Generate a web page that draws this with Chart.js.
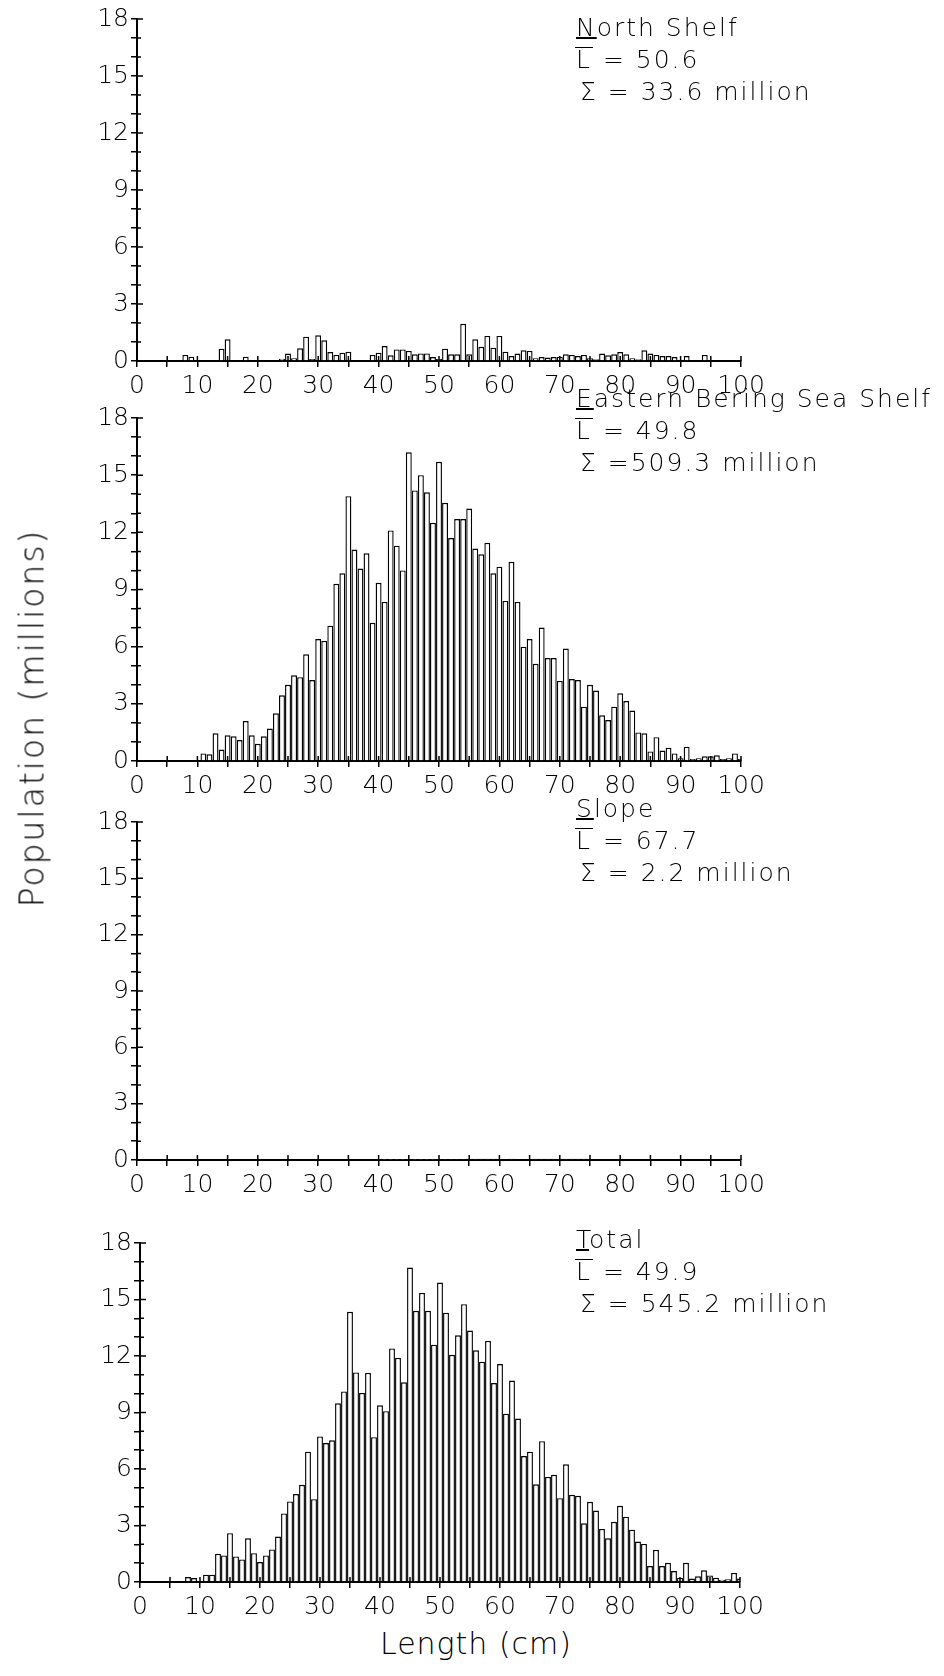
<!DOCTYPE html>
<html lang="en">
<head>
<meta charset="UTF-8">
<title>Population by length</title>
<script src="https://cdn.jsdelivr.net/npm/chart.js"></script>
<style>
  body { margin: 0; background: #fff; font-family: "DejaVu Sans", sans-serif; font-weight: 200; color: #000; }
  #page { position: relative; width: 944px; height: 1676px; overflow: hidden; background: #fff; }
  canvas { position: absolute; left: 0; }
  .note { position: absolute; left: 576px; font-size: 25px; line-height: 32px; letter-spacing: 2px; white-space: nowrap; }
  .note u { text-decoration-thickness: 1.5px; text-underline-offset: 1px; }
  .lbar { display: inline-block; border-top: 1.5px solid #000; line-height: 24px; padding: 0 1px; margin-left: -1px; }
  .sum { padding-left: 4px; }
  #ylab { position: absolute; left: 32px; top: 718px; font-size: 33px; letter-spacing: 2px; white-space: nowrap;
          transform: translate(-50%, -50%) rotate(-90deg); }
  #xlab { position: absolute; left: 476px; top: 1643px; font-size: 30px; letter-spacing: 1px; white-space: nowrap;
          transform: translate(-50%, -50%); }
</style>
</head>
<body>
<div id="page">
  <canvas id="north" width="944" height="400" style="top:0px"></canvas>
  <canvas id="ebs" width="944" height="405" style="top:400px"></canvas>
  <canvas id="slope" width="944" height="420" style="top:805px"></canvas>
  <canvas id="total" width="944" height="400" style="top:1225px"></canvas>

  <div class="note" style="top:12px"><u>N</u>orth Shelf<br><span class="lbar">L</span> = 50.6<br><span class="sum">Σ = 33.6 million</span></div>
  <div class="note" style="top:383px"><u>E</u>astern Bering Sea Shelf<br><span class="lbar">L</span> = 49.8<br><span class="sum">Σ =509.3 million</span></div>
  <div class="note" style="top:793px"><u>S</u>lope<br><span class="lbar">L</span> = 67.7<br><span class="sum">Σ = 2.2 million</span></div>
  <div class="note" style="top:1224px"><u>T</u>otal<br><span class="lbar">L</span> = 49.9<br><span class="sum">Σ = 545.2 million</span></div>

  <div id="ylab">Population (millions)</div>
  <div id="xlab">Length (cm)</div>
</div>

<script>
// length classes, 1 cm
const lengths = [];
for (let i = 0; i <= 100; i++) lengths.push(i);

const yTicks = [0, 3, 6, 9, 12, 15, 18];
const xTicks = [0, 10, 20, 30, 40, 50, 60, 70, 80, 90, 100];

// millions of fish per cm, index = length
const northShelf = [
  0, 0, 0, 0, 0, 0, 0, 0, 0.32, 0.23,
  0.05, 0, 0, 0, 0.65, 1.14, 0, 0.05, 0.23, 0.05,
  0.05, 0, 0, 0, 0.12, 0.39, 0.14, 0.67, 1.28, 0.1,
  1.35, 1.09, 0.47, 0.32, 0.44, 0.49, 0.05, 0.05, 0.05, 0.32,
  0.44, 0.79, 0.3, 0.61, 0.61, 0.53, 0.35, 0.4, 0.4, 0.21,
  0.1, 0.65, 0.35, 0.35, 1.96, 0.35, 1.14, 0.75, 1.32, 0.7,
  1.32, 0.49, 0.26, 0.39, 0.56, 0.53, 0.14, 0.21, 0.18, 0.21,
  0.23, 0.35, 0.32, 0.26, 0.32, 0.14, 0.09, 0.39, 0.3, 0.35,
  0.47, 0.35, 0.14, 0.09, 0.56, 0.39, 0.32, 0.26, 0.26, 0.21,
  0.05, 0.26, 0.05, 0, 0.32, 0.05, 0, 0, 0, 0,
  0
];

const easternBering = [
  0, 0, 0, 0, 0, 0, 0, 0, 0, 0,
  0, 0.4, 0.35, 1.45, 0.6, 1.35, 1.3, 1.1, 2.1, 1.35,
  0.9, 1.3, 1.7, 2.5, 3.45, 4.0, 4.5, 4.4, 5.6, 4.25,
  6.4, 6.3, 7.1, 9.3, 9.85, 13.9, 11.1, 10.1, 10.9, 7.25,
  9.35, 8.35, 12.1, 11.3, 10.0, 16.2, 14.2, 15.0, 14.1, 12.5,
  15.7, 13.55, 11.7, 12.7, 12.7, 13.25, 11.15, 10.85, 11.45, 9.85,
  10.2, 8.4, 10.45, 8.35, 6.0, 6.4, 5.1, 7.0, 5.4, 5.4,
  4.2, 5.9, 4.3, 4.25, 2.85, 4.0, 3.7, 2.4, 2.15, 2.85,
  3.55, 3.15, 2.65, 1.5, 1.45, 0.5, 1.25, 0.55, 0.7, 0.4,
  0.15, 0.75, 0.1, 0.15, 0.25, 0.25, 0.3, 0.1, 0.15, 0.4,
  0.1
];

const slope = [
  0, 0, 0, 0, 0, 0, 0, 0, 0, 0,
  0, 0, 0, 0, 0, 0, 0, 0, 0, 0,
  0, 0, 0, 0, 0, 0, 0, 0, 0, 0,
  0, 0, 0, 0, 0, 0, 0, 0, 0, 0,
  0.01, 0.01, 0.01, 0.01, 0.01, 0.01, 0.01, 0.01, 0.01, 0.01,
  0.02, 0.02, 0.02, 0.02, 0.02, 0.06, 0.06, 0.07, 0.06, 0.06,
  0.06, 0.05, 0.06, 0.04, 0.04, 0.04, 0.06, 0.07, 0.06, 0.07,
  0.06, 0.06, 0.06, 0.07, 0.06, 0.05, 0.05, 0.05, 0.05, 0.05,
  0.05, 0.05, 0.05, 0.05, 0.05, 0.04, 0.04, 0.04, 0.04, 0.04,
  0.04, 0.04, 0.03, 0.03, 0.03, 0.03, 0, 0, 0, 0,
  0
];

const total = [
  0, 0, 0, 0, 0, 0, 0, 0, 0.26, 0.21,
  0.05, 0.39, 0.39, 1.5, 1.41, 2.59, 1.36, 1.2, 2.32, 1.53,
  1.06, 1.41, 1.73, 2.41, 3.64, 4.28, 4.67, 5.16, 6.92, 4.4,
  7.73, 7.38, 7.52, 9.49, 10.12, 14.35, 11.13, 10.04, 11.1, 7.69,
  9.38, 9.07, 12.4, 11.9, 10.6, 16.7, 14.4, 15.35, 14.4, 12.6,
  15.9, 14.3, 12.06, 13.1, 14.75, 13.35, 12.3, 11.7, 12.8, 10.56,
  11.57, 8.94, 10.7, 8.68, 6.69, 6.92, 5.19, 7.48, 5.58, 5.69,
  4.45, 6.25, 4.63, 4.58, 3.12, 4.26, 3.79, 2.82, 2.32, 3.2,
  4.05, 3.47, 2.78, 2.15, 2.02, 0.85, 1.71, 0.85, 1.02, 0.58,
  0.23, 1.02, 0.18, 0.3, 0.62, 0.35, 0.23, 0.12, 0.14, 0.48,
  0.18
];

const tickFont = { family: 'DejaVu Sans', size: 25, weight: '200' };

// small tick marks on the inside of the axes too (the original ticks cross the axis)
const innerTicks = {
  id: 'innerTicks',
  afterDraw(chart) {
    const ctx = chart.ctx, a = chart.chartArea;
    const xs = chart.scales.x, ys = chart.scales.y;
    ctx.save();
    ctx.strokeStyle = '#000';
    ctx.lineWidth = 1.5;
    ctx.beginPath();
    xs.ticks.forEach(t => {
      const px = xs.getPixelForValue(t.value);
      ctx.moveTo(px, a.bottom);
      ctx.lineTo(px, a.bottom - 5);
    });
    ys.ticks.forEach(t => {
      const py = ys.getPixelForValue(t.value);
      ctx.moveTo(a.left, py);
      ctx.lineTo(a.left + (yTicks.includes(t.value) ? 6 : 4), py);
    });
    ctx.stroke();
    ctx.restore();
  }
};

function panel(id, values, pad) {
  const pts = lengths.map((l, i) => ({ x: l, y: values[i] }));
  return new Chart(document.getElementById(id), {
    type: 'bar',
    data: {
      datasets: [{
        data: pts,
        backgroundColor: '#fff',
        borderColor: '#000',
        borderWidth: 1.4,
        borderSkipped: 'start',
        barPercentage: 0.98,
        categoryPercentage: 1.0
      }]
    },
    options: {
      responsive: false,
      animation: false,
      layout: { padding: pad },
      plugins: { legend: { display: false }, tooltip: { enabled: false } },
      scales: {
        x: {
          type: 'linear',
          min: 0, max: 100,
          offset: false,
          ticks: {
            stepSize: 5, autoSkip: false, maxRotation: 0, padding: 4,
            color: '#000', font: tickFont,
            callback: v => xTicks.includes(v) ? v : ''
          },
          grid: { offset: false, drawOnChartArea: false, drawTicks: true, tickLength: 6, color: '#000', lineWidth: 1.5 },
          border: { display: true, color: '#000', width: 2 },
          afterFit: s => { s.height = 36; }
        },
        y: {
          min: 0, max: 18,
          ticks: {
            stepSize: 1, autoSkip: false, padding: 2,
            color: '#000', font: tickFont,
            callback: v => yTicks.includes(v) ? v : ''
          },
          grid: { drawOnChartArea: false, drawTicks: true, tickLength: 6, color: '#000', lineWidth: 1.5 },
          border: { display: true, color: '#000', width: 2 },
          afterFit: s => { s.width = 50; }
        }
      }
    },
    plugins: [innerTicks]
  });
}

panel('north', northShelf, { left: 87, right: 203, top: 19, bottom: 3 });
panel('ebs', easternBering, { left: 87, right: 203, top: 18, bottom: 8 });
panel('slope', slope, { left: 87, right: 203, top: 14, bottom: 29 });
panel('total', total, { left: 90, right: 204, top: 18, bottom: 7 });
</script>
</body>
</html>
